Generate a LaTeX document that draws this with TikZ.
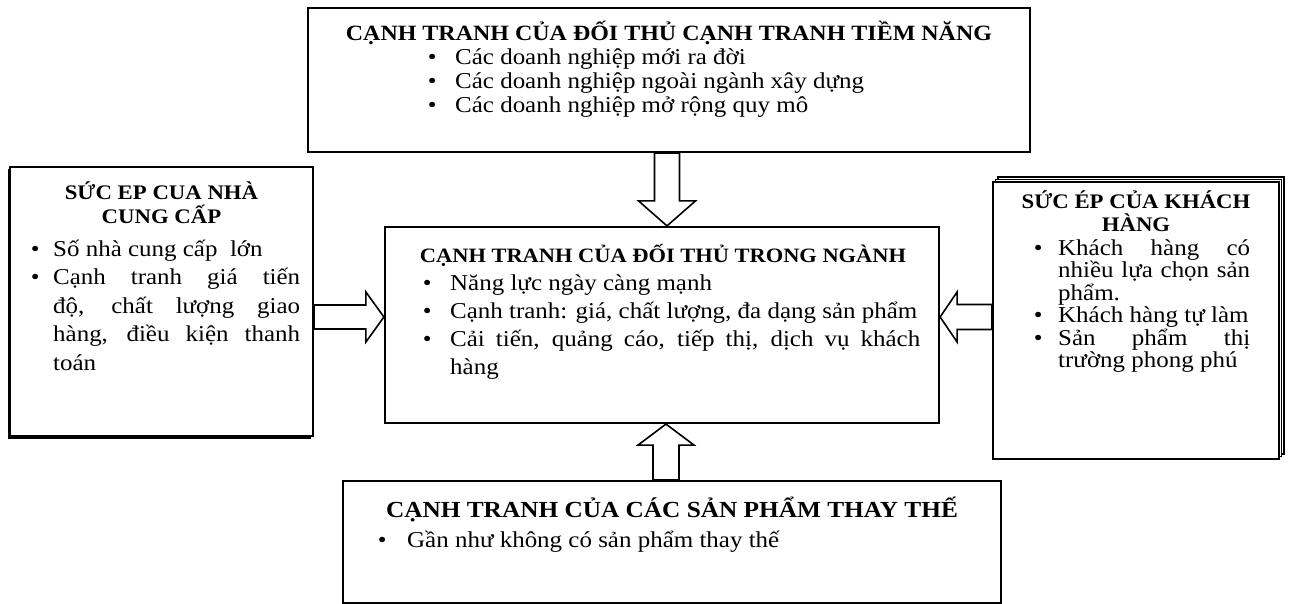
\documentclass[tikz,border=0pt]{standalone}
\usepackage{fontspec}
\setmainfont{Liberation Serif}[FakeStretch=1.1]
\usetikzlibrary{calc,shadows}
\setlength\parindent{0pt}
\lineskiplimit=-100pt
\lineskip=0pt

% bullet offset, text offset and text line length inside a list block
\newlength\bx
\newlength\tx
\newlength\lw
\newcommand\dotmark{\textbullet}
% bullet line: #1 = s (justified) or l (flush left)
\newcommand\bl[2][s]{\hbox{\makebox[\tx][l]{\hspace*{\bx}\dotmark}\makebox[\lw][#1]{#2}}}
% continuation line of a bullet
\newcommand\cl[2][s]{\hbox{\hspace*{\tx}\makebox[\lw][#1]{#2}}}

\tikzset{
  box/.style={draw, line width=2.2pt, fill=white, inner sep=0pt},
  ttl/.style={inner sep=0pt, anchor=base, font=\bfseries\fontsize{#1}{#1}\selectfont},
  body/.style={inner sep=0pt, anchor=base west, font=\fontsize{22.7}{#1}\selectfont},
  barrow/.style={draw, line width=1.6pt, fill=white, line join=miter},
}

\begin{document}
\begin{tikzpicture}[x=1pt, y=-1pt]
\useasboundingbox (0,0) rectangle (1290,604);
\fill[white] (0,0) rectangle (1290,604);

% ---- boxes ----
\node[box, minimum width=722pt, minimum height=144pt] (potential) at (669,80) {};
\node[box, minimum width=303pt, minimum height=269pt,
      drop shadow={shadow xshift=-2.5pt, shadow yshift=-2.5pt, fill=black, opacity=1}]
      (supplier) at (161.5,301.5) {};
\node[box, minimum width=554pt, minimum height=196pt] (rivalry) at (662,325) {};
\node[box, minimum width=286pt, minimum height=277pt,
      double copy shadow={shadow xshift=2.5pt, shadow yshift=2.5pt, fill=white, draw=black, line width=1.4pt}]
      (buyer) at (1136,320.5) {};
\node[box, minimum width=658pt, minimum height=122pt] (subst) at (672,542) {};

% ---- block arrows ----
% potential entrants -> rivalry (down)
\coordinate (ta) at ([xshift=-2pt]potential.south);
\coordinate (tb) at (ta |- rivalry.north);
\draw[barrow] ([xshift=-12.5pt]ta) -- ([xshift=12.5pt]ta) -- ([xshift=12.5pt,yshift=25pt]tb)
  -- ([xshift=28.5pt,yshift=25pt]tb) -- (tb) -- ([xshift=-28.5pt,yshift=25pt]tb)
  -- ([xshift=-12.5pt,yshift=25pt]tb) -- cycle;
% substitutes -> rivalry (up)
\coordinate (ba) at ([xshift=-6pt]subst.north);
\coordinate (bb) at (ba |- rivalry.south);
\draw[barrow] ([xshift=-13pt]ba) -- ([xshift=13pt]ba) -- ([xshift=13pt,yshift=-21pt]bb)
  -- ([xshift=28pt,yshift=-21pt]bb) -- (bb) -- ([xshift=-28pt,yshift=-21pt]bb)
  -- ([xshift=-13pt,yshift=-21pt]bb) -- cycle;
% suppliers -> rivalry (right)
\coordinate (lb) at ([yshift=8pt]rivalry.west);
\coordinate (la) at (lb -| supplier.east);
\draw[barrow] ([yshift=12pt]la) -- ([xshift=-18pt,yshift=12pt]lb) -- ([xshift=-18pt,yshift=25pt]lb)
  -- (lb) -- ([xshift=-18pt,yshift=-25pt]lb) -- ([xshift=-18pt,yshift=-12pt]lb)
  -- ([yshift=-12pt]la) -- cycle;
% buyers -> rivalry (left)
\coordinate (rb) at ([yshift=8pt]rivalry.east);
\coordinate (ra) at (rb -| buyer.west);
\draw[barrow] ([yshift=12.5pt]ra) -- ([xshift=17pt,yshift=12.5pt]rb) -- ([xshift=17pt,yshift=25pt]rb)
  -- (rb) -- ([xshift=17pt,yshift=-25pt]rb) -- ([xshift=17pt,yshift=-12.5pt]rb)
  -- ([yshift=-12.5pt]ra) -- cycle;

% ---- texts ----
\node[ttl=21.8] (potentialtitle) at (669,41) {CẠNH TRANH CỦA ĐỐI THỦ CẠNH TRANH TIỀM NĂNG};
\node[body=24] (potentialtext) at (308,65)
  {\vtop{\setlength\bx{119.6pt}\setlength\tx{147pt}\setlength\lw{575pt}%
   \bl[l]{Các doanh nghiệp mới ra đời}
   \bl[l]{Các doanh nghiệp ngoài ngành xây dựng}
   \bl[l]{Các doanh nghiệp mở rộng quy mô}}};

\node[ttl=20.7] (suppliertitleA) at (161.5,200) {SỨC EP CUA NHÀ};
\node[ttl=20.7] (suppliertitleB) at (161.5,223) {CUNG CẤP};
\node[body=28.5] (suppliertext) at (10,256)
  {\vtop{\setlength\bx{20.6pt}\setlength\tx{43pt}\setlength\lw{247pt}%
   \bl[l]{Số nhà cung cấp\ \ lớn}
   \bl{Cạnh tranh giá tiến}
   \cl{độ, chất lượng giao}
   \cl{hàng, điều kiện thanh}
   \cl[l]{toán}}};

\node[ttl=20.4] (rivalrytitle) at (663,262.5) {CẠNH TRANH CỦA ĐỐI THỦ TRONG NGÀNH};
\node[body=28] (rivalrytext) at (385,290.5)
  {\vtop{\setlength\bx{37.6pt}\setlength\tx{65pt}\setlength\lw{470pt}%
   \bl[l]{Năng lực ngày càng mạnh}
   \bl[l]{Cạnh tranh: giá, chất lượng, đa dạng sản phẩm}
   \bl{Cải tiến, quảng cáo, tiếp thị, dịch vụ khách}
   \cl[l]{hàng}}};

\node[ttl=20.7] (buyertitleA) at (1136,208) {SỨC ÉP CỦA KHÁCH};
\node[ttl=20.7] (buyertitleB) at (1136,232) {HÀNG};
\node[body=22.5] (buyertext) at (993,255)
  {\vtop{\setlength\bx{40.6pt}\setlength\tx{65pt}\setlength\lw{192pt}%
   \bl{Khách hàng có}
   \cl{nhiều lựa chọn sản}
   \cl[l]{phẩm.}
   \bl[l]{Khách hàng tự làm}
   \bl{Sản phẩm thị}
   \cl[l]{trường phong phú}}};

\node[ttl=23] (substtitle) at (672,517) {CẠNH TRANH CỦA CÁC SẢN PHẨM THAY THẾ};
\node[body=28] (substtext) at (343,547)
  {\vtop{\setlength\bx{34.6pt}\setlength\tx{64pt}\setlength\lw{500pt}%
   \bl[l]{Gần như không có sản phẩm thay thế}}};
\end{tikzpicture}
\end{document}
